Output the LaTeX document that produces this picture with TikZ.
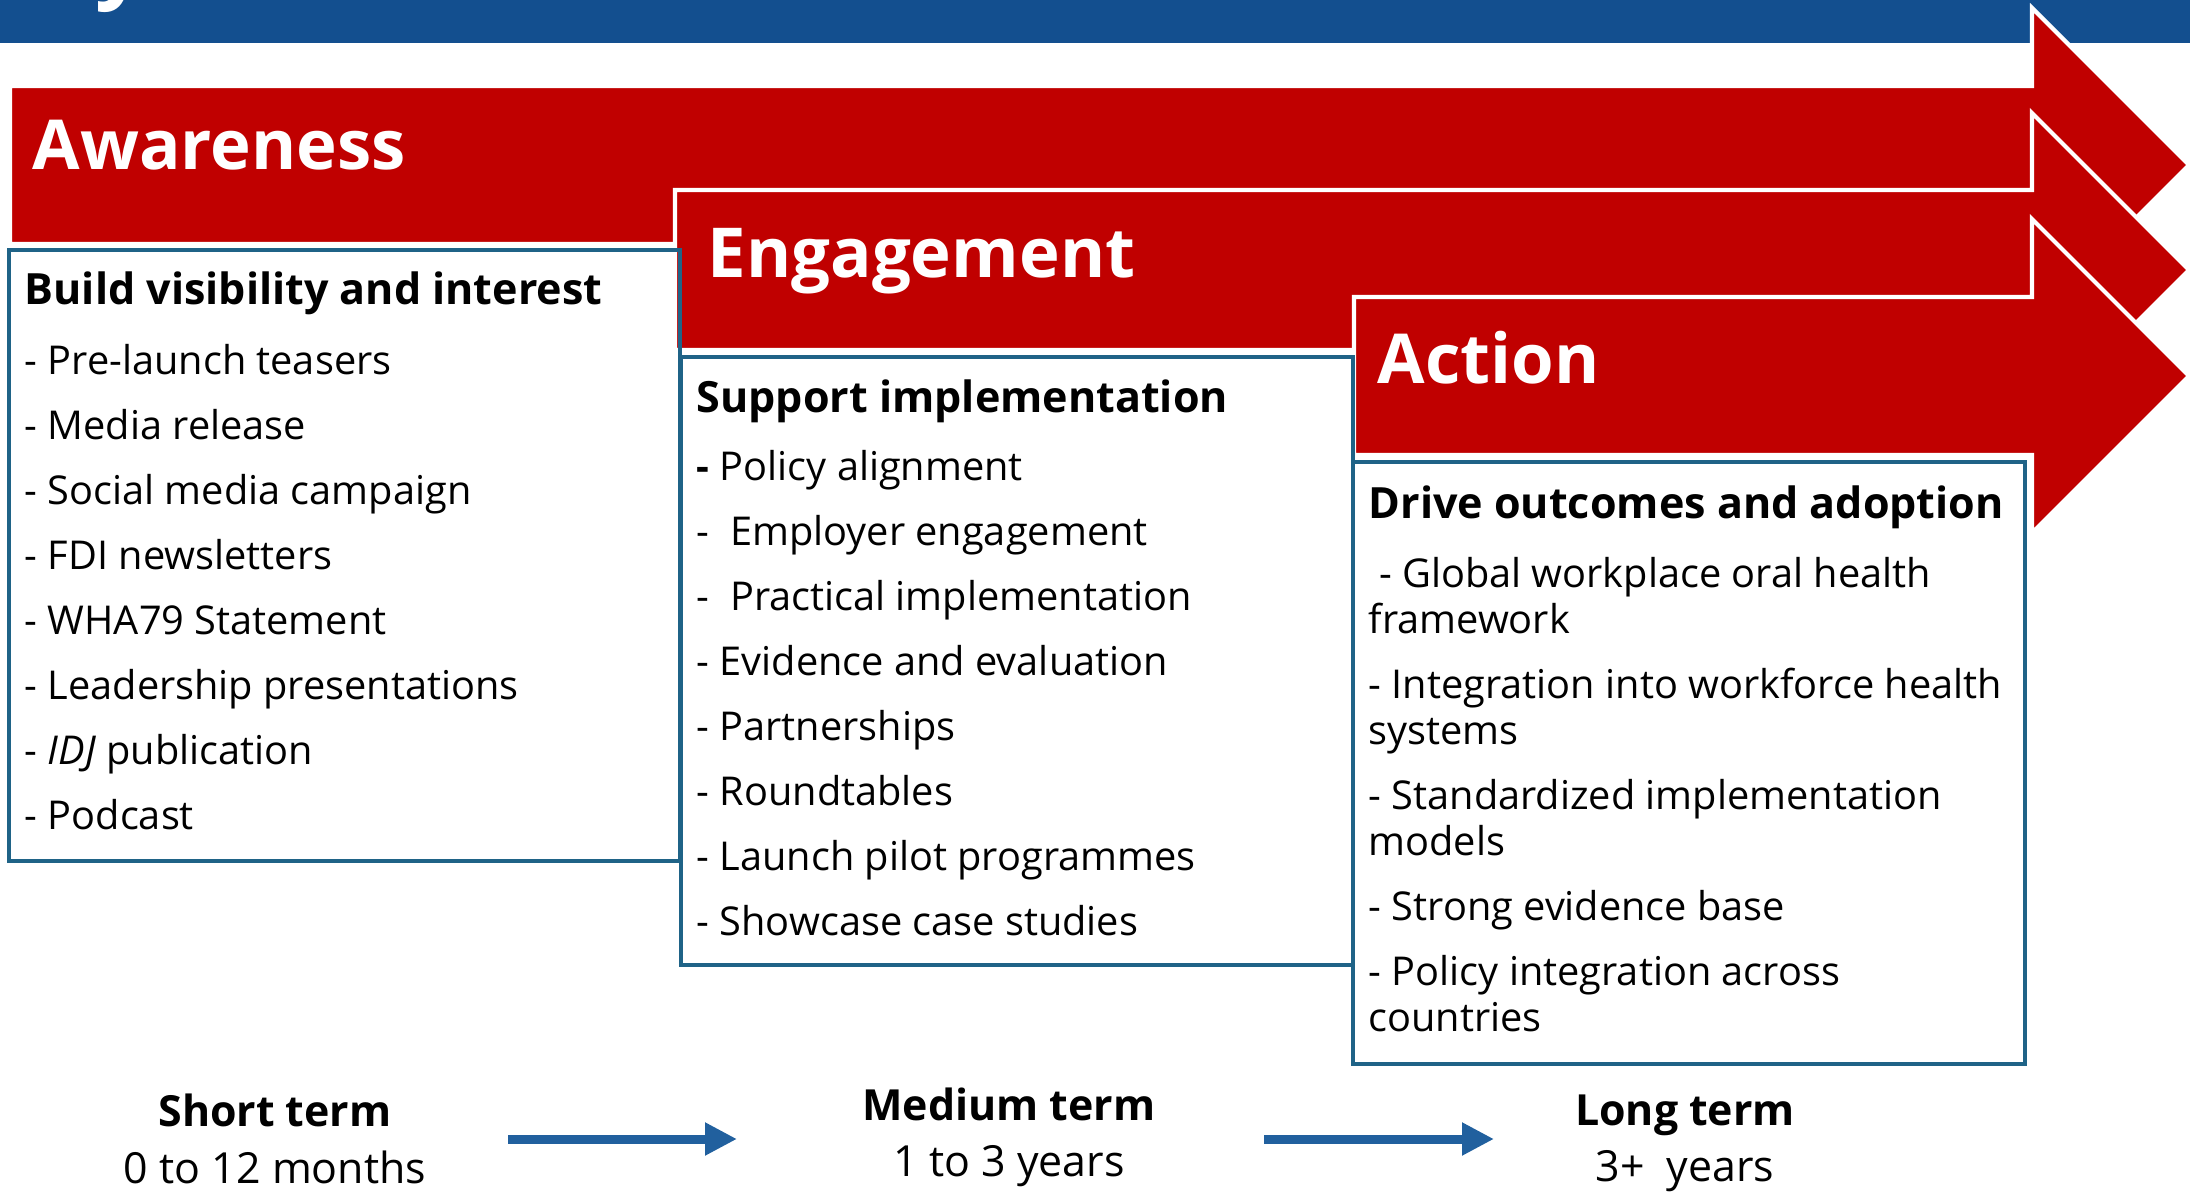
\documentclass[tikz,border=0pt]{standalone}
\usepackage{fontspec}
\setmainfont{Open Sans}
\usepackage{tikz}
\usetikzlibrary{arrows.meta}

\definecolor{barblue}{RGB}{19,79,143}
\definecolor{phasered}{RGB}{192,0,0}
\definecolor{boxblue}{RGB}{31,99,135}
\definecolor{termblue}{RGB}{33,96,158}

\tikzset{
  phasearrow/.style={fill=phasered, draw=white, line width=1.2pt},
  phasetitle/.style={anchor=base west, inner sep=0pt, text=white, font=\fontsize{19.6}{24}\selectfont\bfseries},
  goalbox/.style={draw=boxblue, line width=1.1pt},
  goalhead/.style={anchor=base west, inner sep=0pt, font=\fontsize{12.25}{14}\selectfont\bfseries},
  goalitem/.style={anchor=base west, inner sep=0pt, font=\fontsize{11.3}{13}\selectfont},
  termlabel/.style={align=center, inner sep=0pt, font=\fontsize{12.2}{16}\selectfont},
  timearrow/.style={draw=termblue, line width=0.09cm, -{Triangle[length=0.32cm, width=0.31cm]}},
}

\begin{document}
\begin{tikzpicture}
  \useasboundingbox (0,0) rectangle (21.9,-11.92);

  % top banner
  \fill[barblue] (0,0) rectangle (21.9,-0.43);
  \node[anchor=base west, inner sep=0pt, text=white, font=\fontsize{25}{30}\selectfont\bfseries] (banner) at (0.95,0.09) {y};

  % phase arrows
  \foreach \x/\t/\b/\c in {0.10/-0.86/-2.44/-1.65, 6.75/-1.90/-3.50/-2.70, 13.54/-2.97/-4.55/-3.76}
    \draw[phasearrow] (\x,\t) -- (20.32,\t) -- (20.32,{\c+1.57}) -- (21.89,\c)
      -- (20.32,{\c-1.57}) -- (20.32,\b) -- (\x,\b) -- cycle;

  \node[phasetitle] (awareness) at (0.32,-1.70) {Awareness};
  \node[phasetitle] (engagement) at (7.07,-2.77) {Engagement};
  \node[phasetitle] (action) at (13.77,-3.83) {Action};

  % goal boxes
  \draw[goalbox] (0.09,-2.50) rectangle (6.80,-8.61);
  \draw[goalbox] (6.81,-3.57) rectangle (13.53,-9.65);
  \draw[goalbox] (13.53,-4.62) rectangle (20.25,-10.64);

  \node[goalhead] (awhead) at (0.24,-3.04) {Build visibility and interest};
  \foreach \txt [count=\i] in {- Pre-launch teasers, - Media release, - Social media campaign,
      - FDI newsletters, - WHA79 Statement, - Leadership presentations,
      - \textit{IDJ} publication, - Podcast}
    \node[goalitem] (awitem\i) at (0.24,{-3.74-0.65*(\i-1)}) {\txt};

  \node[goalhead] (enhead) at (6.96,-4.12) {Support implementation};
  \foreach \txt [count=\i] in {\textbf{-} Policy alignment, -\ \ Employer engagement,
      -\ \ Practical implementation, - Evidence and evaluation, - Partnerships,
      - Roundtables, - Launch pilot programmes, - Showcase case studies}
    \node[goalitem] (enitem\i) at (6.96,{-4.80-0.65*(\i-1)}) {\txt};

  \node[goalhead] (achead) at (13.68,-5.18) {Drive outcomes and adoption};
  \foreach \y/\txt [count=\i] in {5.87/\ - Global workplace oral health, 6.33/framework,
      6.98/- Integration into workforce health, 7.44/systems,
      8.09/- Standardized implementation, 8.55/models,
      9.20/- Strong evidence base, 9.85/- Policy integration across, 10.31/countries}
    \node[goalitem] (acitem\i) at (13.68,-\y) {\txt};

  % time line
  \node[termlabel] (short) at (2.75,-11.39) {\textbf{Short term}\\0 to 12 months};
  \node[termlabel] (medium) at (10.09,-11.37) {\textbf{Medium term}\\1 to 3 years};
  \node[termlabel] (long) at (16.85,-11.43) {\textbf{Long term}\\3+\ \ years};

  \draw[timearrow, shorten <=2.33cm, shorten >=2.72cm] (short.center) -- (short.center -| medium.center);
  \draw[timearrow, shorten <=2.55cm, shorten >=1.91cm] (medium.center |- short.center) -- (long.center |- short.center);
\end{tikzpicture}
\end{document}
